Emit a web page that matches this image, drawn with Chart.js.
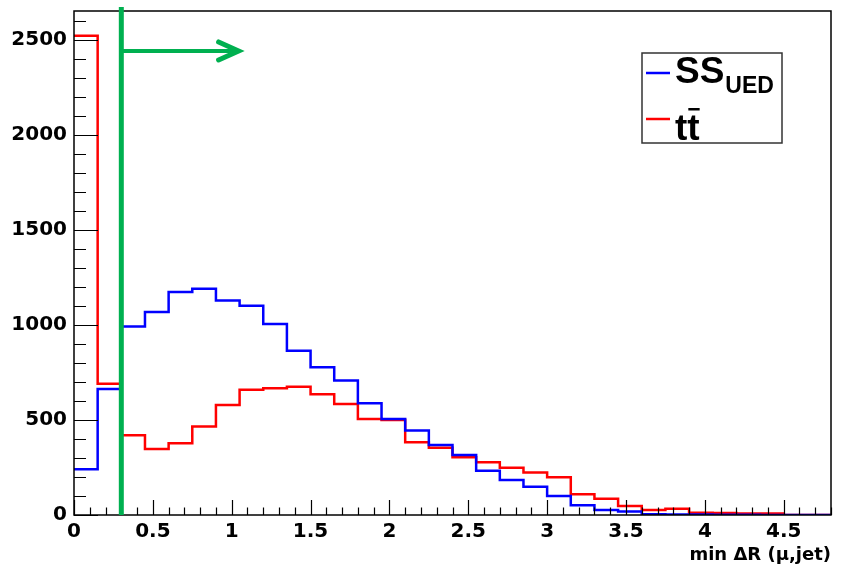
<!DOCTYPE html>
<html>
<head>
<meta charset="utf-8">
<script src="https://cdn.jsdelivr.net/npm/chart.js@4"></script>
<style>
  html, body { margin: 0; padding: 0; background: #fff; }
  #wrap { width: 844px; height: 570px; }
</style>
</head>
<body>
<div id="wrap"><canvas id="c" width="844" height="570"></canvas></div>
<script>
// histogram binning (min dR between muon and jet)
var binLow = 0;
var binWidth = 0.15;
var xMax = 4.8;
var yMax = 2650;

// bin contents
var ssUED = [240, 663, 991, 1067, 1172, 1189, 1128, 1100, 1004, 863, 777, 707,
             588, 505, 444, 368, 316, 233, 184, 149, 100, 51, 26, 18,
             4, 3, 2, 1, 1, 0, 0, 0];
var ttbar = [2520, 690, 419, 347, 377, 465, 579, 658, 667, 674, 635, 584,
             505, 500, 382, 354, 303, 277, 249, 223, 198, 109, 86, 47,
             26, 33, 12, 10, 8, 8, 0, 0];

var xTickLabels = [0, 0.5, 1, 1.5, 2, 2.5, 3, 3.5, 4, 4.5];
var yTickLabels = [0, 500, 1000, 1500, 2000, 2500];

// the cut and its arrow
var cutValue = 0.3;
var arrowEnd = 1.05;
var arrowLevel = 2440;

var FONT = "'Liberation Sans', Arial, Helvetica, sans-serif";
var AXFONT = "'DejaVu Sans', Verdana, sans-serif";

// turn bin contents into step points at the bin edges
function histPoints(vals) {
    var pts = [];
    for (var i = 0; i < vals.length; i++) {
        pts.push({x: binLow + i * binWidth, y: vals[i]});
    }
    pts.push({x: binLow + vals.length * binWidth, y: vals[vals.length - 1]});
    return pts;
}

var rootStyle = {
    id: 'rootStyle',
    afterDraw: function(chart) {
        var ctx = chart.ctx;
        var a = chart.chartArea;
        var xs = chart.scales.x, ys = chart.scales.y;
        ctx.save();

        // frame
        ctx.strokeStyle = '#000';
        ctx.lineWidth = 1.5;
        ctx.strokeRect(a.left, a.top, a.right - a.left, a.bottom - a.top);

        // x ticks, every 0.1, long ones every 0.5
        ctx.lineWidth = 1.2;
        ctx.beginPath();
        for (var i = 0; i <= 48; i++) {
            var px = Math.round(xs.getPixelForValue(i / 10)) + 0.5;
            var len = (i % 5 === 0) ? 15 : 7.5;
            ctx.moveTo(px, a.bottom);
            ctx.lineTo(px, a.bottom - len);
        }
        // y ticks, every 100, long ones every 500
        for (var j = 0; j <= 26; j++) {
            var py = Math.round(ys.getPixelForValue(j * 100)) + 0.5;
            var l = (j % 5 === 0) ? 24 : 12;
            ctx.moveTo(a.left, py);
            ctx.lineTo(a.left + l, py);
        }
        ctx.stroke();

        // green cut line
        var cx = xs.getPixelForValue(cutValue);
        ctx.strokeStyle = '#00b050';
        ctx.lineWidth = 5;
        ctx.beginPath();
        ctx.moveTo(cx, a.top - 4);
        ctx.lineTo(cx, a.bottom);
        ctx.stroke();

        // arrow
        var ay = ys.getPixelForValue(arrowLevel);
        var ax = xs.getPixelForValue(arrowEnd);
        ctx.lineWidth = 4;
        ctx.beginPath();
        ctx.moveTo(cx, ay);
        ctx.lineTo(ax - 2, ay);
        ctx.stroke();
        ctx.lineWidth = 5;
        ctx.lineCap = 'round';
        ctx.lineJoin = 'miter';
        ctx.beginPath();
        ctx.moveTo(ax - 21, ay - 9);
        ctx.lineTo(ax - 1, ay);
        ctx.lineTo(ax - 21, ay + 9);
        ctx.stroke();

        // legend box
        ctx.lineCap = 'butt';
        ctx.fillStyle = '#fff';
        ctx.fillRect(642, 53, 140, 90);
        ctx.strokeStyle = '#333';
        ctx.lineWidth = 1.5;
        ctx.strokeRect(642, 53, 140, 90);

        ctx.lineWidth = 2.5;
        ctx.strokeStyle = '#0000ff';
        ctx.beginPath(); ctx.moveTo(646, 73); ctx.lineTo(670, 73); ctx.stroke();
        ctx.strokeStyle = '#ff0000';
        ctx.beginPath(); ctx.moveTo(646, 119); ctx.lineTo(670, 119); ctx.stroke();

        ctx.fillStyle = '#000';
        ctx.textBaseline = 'alphabetic';
        ctx.textAlign = 'left';
        ctx.font = 'bold 37px ' + FONT;
        ctx.fillText('SS', 675, 83);
        var w = ctx.measureText('SS').width;
        ctx.font = 'bold 23px ' + FONT;
        ctx.fillText('UED', 675 + w + 1, 93);

        ctx.font = 'bold 37px ' + FONT;
        ctx.fillText('tt', 675, 140);
        var t1 = ctx.measureText('t').width;
        var t2 = ctx.measureText('tt').width;
        ctx.fillRect(675 + t1 + 1, 108, t2 - t1 - 1, 2.5);

        ctx.restore();
    }
};

var ctx = document.getElementById('c').getContext('2d');
var chart = new Chart(ctx, {
    type: 'line',
    data: {
        datasets: [
            {
                label: 'SS_UED',
                data: histPoints(ssUED),
                borderColor: '#0000ff',
                borderWidth: 2.5,
                stepped: 'before',
                pointRadius: 0,
                fill: false
            },
            {
                label: 'ttbar',
                data: histPoints(ttbar),
                borderColor: '#ff0000',
                borderWidth: 2.5,
                stepped: 'before',
                pointRadius: 0,
                fill: false
            }
        ]
    },
    options: {
        responsive: false,
        animation: false,
        layout: { padding: { top: 0, right: 13, left: 0, bottom: 0 } },
        plugins: {
            legend: { display: false },
            tooltip: { enabled: false }
        },
        scales: {
            x: {
                type: 'linear',
                min: 0,
                max: xMax,
                grid: { display: false, drawTicks: false },
                border: { display: false },
                afterBuildTicks: function(scale) {
                    scale.ticks = xTickLabels.map(function(v) { return {value: v}; });
                },
                afterFit: function(scale) { scale.height = 55; },
                ticks: {
                    color: '#000',
                    padding: 5,
                    maxRotation: 0,
                    autoSkip: false,
                    font: { family: AXFONT, size: 20, weight: 'bold' },
                    callback: function(v) { return String(v); }
                },
                title: {
                    display: true,
                    text: 'min \u0394R (\u03bc,jet)',
                    align: 'end',
                    color: '#000',
                    font: { family: AXFONT, size: 18, weight: 'bold' },
                    padding: { top: 0, bottom: 4 }
                }
            },
            y: {
                type: 'linear',
                min: 0,
                max: yMax,
                grid: { display: false, drawTicks: false },
                border: { display: false },
                afterBuildTicks: function(scale) {
                    scale.ticks = yTickLabels.map(function(v) { return {value: v}; });
                },
                afterFit: function(scale) {
                    scale.width = 74;
                    scale.paddingTop = 11;
                },
                ticks: {
                    color: '#000',
                    padding: 7,
                    autoSkip: false,
                    font: { family: AXFONT, size: 20, weight: 'bold' },
                    callback: function(v) { return String(v); }
                }
            }
        }
    },
    plugins: [rootStyle]
});
</script>
</body>
</html>
